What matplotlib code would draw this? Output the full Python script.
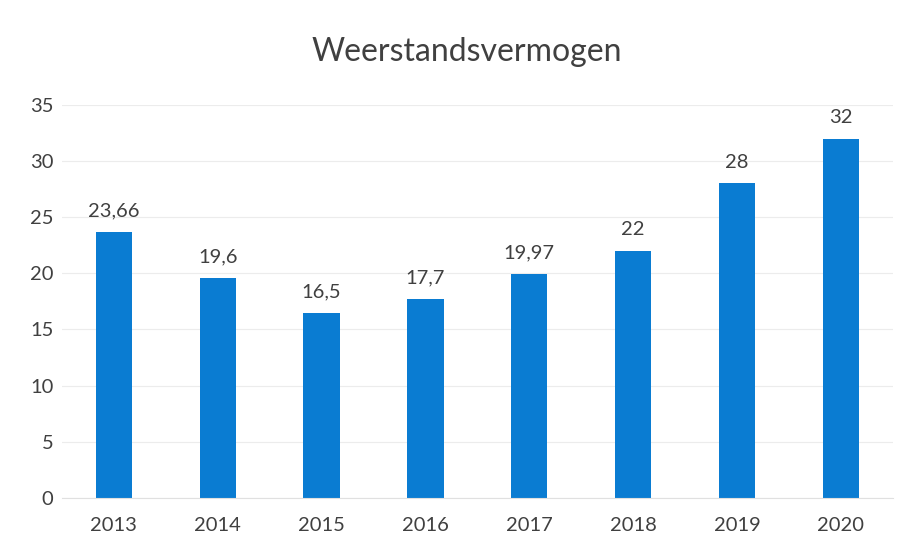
import matplotlib.pyplot as plt

years = ['2013', '2014', '2015', '2016', '2017', '2018', '2019', '2020']
values = [23.66, 19.6, 16.5, 17.7, 19.97, 22, 28, 32]
labels = ['23,66', '19,6', '16,5', '17,7', '19,97', '22', '28', '32']

plt.rcParams['font.family'] = ['Lato', 'DejaVu Sans']
text_color = '#404040'

fig = plt.figure(figsize=(9.11, 5.52), dpi=100)
ax = fig.add_axes([0.068, 0.098, 0.912, 0.712])

x = range(len(years))
bars = ax.bar(x, values, width=0.35, color='#0a7cd2', zorder=2)
for rect, lab in zip(bars, labels):
    ax.annotate(lab, (rect.get_x() + rect.get_width() / 2, rect.get_height()),
                xytext=(0, 9), textcoords='offset points', ha='center', va='bottom',
                fontsize=14.5, color=text_color)

ax.set_xlim(-0.5, len(years) - 0.5)
ax.set_ylim(0, 35)
ax.set_yticks(range(0, 36, 5))
ax.set_xticks(list(x))
ax.set_xticklabels(years)
ax.tick_params(length=0, labelsize=14.5, colors=text_color)
ax.tick_params(axis='x', pad=14)
ax.tick_params(axis='y', pad=6)
ax.grid(axis='y', color='#ececec', linewidth=0.8, zorder=0)
for s in ['top', 'right', 'left']:
    ax.spines[s].set_visible(False)
ax.spines['bottom'].set_color('#e0e0e0')

fig.text(0.512, 0.905, 'Weerstandsvermogen', ha='center', va='center', fontsize=23, color=text_color)

fig.savefig('out.png', dpi=100)
